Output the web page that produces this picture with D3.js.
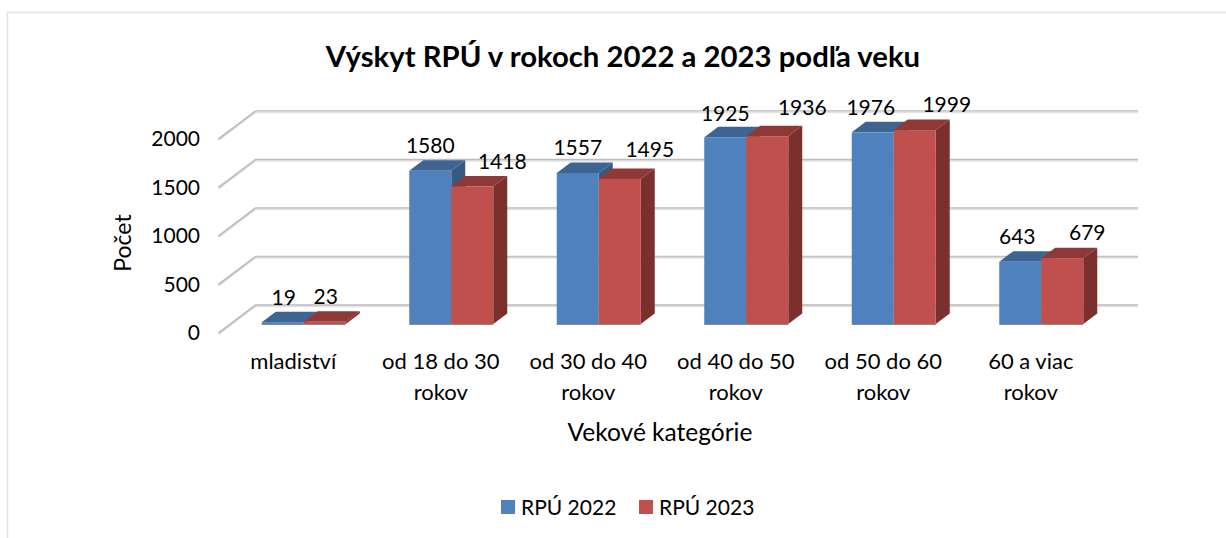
<!DOCTYPE html>
<html><head><meta charset="utf-8">
<script src="https://cdn.jsdelivr.net/npm/d3@7/dist/d3.min.js"></script>
<style>html,body{margin:0;padding:0;background:#fff}svg{display:block}text{font-family:Lato,"Open Sans",sans-serif;fill:#000}</style>
</head><body><div id="c"></div>
<script>
const categories = ["mladiství","od 18 do 30 rokov","od 30 do 40 rokov","od 40 do 50 rokov","od 50 do 60 rokov","60 a viac rokov"];
const categoryLines = [["mladiství"],["od 18 do 30","rokov"],["od 30 do 40","rokov"],["od 40 do 50","rokov"],["od 50 do 60","rokov"],["60 a viac","rokov"]];
const rpu2022 = [19,1580,1557,1925,1976,643];
const rpu2023 = [23,1418,1495,1936,1999,679];
const seriesNames = ["RPÚ 2022","RPÚ 2023"];
const yTicks = [0,500,1000,1500,2000];
const chartTitle = "Výskyt RPÚ v rokoch 2022 a 2023 podľa veku";
const yTitle = "Počet";
const xTitle = "Vekové kategórie";
// manual nudges of the data labels (as placed in the original)
const labelNudge2022 = [[1,0],[0,0],[0,0],[0,1],[-2,0],[-3,0]];
const labelNudge2023 = [[1,0],[30,0],[30,-4],[35,-4],[32,0],[25,0]];

const W=1226,H=538;
const dx=14, dy=10.5;          // bar depth
const colors=[{front:"#4f81bd",top:"#3e6491",side:"#375a85"},{front:"#c0504d",top:"#8e3937",side:"#7b302e"}];

const svg=d3.select("#c").append("svg").attr("width",W).attr("height",H);
svg.append("rect").attr("width",W).attr("height",H).attr("fill","#fff");
svg.append("path").attr("d","M7.5,538V12.5H1226").attr("fill","none").attr("stroke","#e2e2e2").attr("stroke-width",1.5);

const x0=d3.scaleBand().domain(categories).range([230,1115]);
const x1=d3.scaleBand().domain([0,1]).range([0,84]);
const y=d3.scaleLinear().domain([0,2000]).range([324,130]);
const barX=(c,s)=>x0(c)+(x0.bandwidth()-84)/2+x1(s);

// gridlines on back wall and side wall
const grid=svg.append("g").attr("fill","none");
yTicks.forEach(t=>{
  const py=y(t);
  const d=`M218.5,${py+9}L255.5,${py-19}H1138`;
  grid.append("path").attr("d",d).attr("stroke","#e4e4e4").attr("stroke-width",2).attr("transform","translate(0,1.2)");
  grid.append("path").attr("d",d).attr("stroke","#bcbcbc").attr("stroke-width",1.7);
  if(t===2000||t===1000||t===500) grid.append("path").attr("d",`M255.5,${py-19}H1138`).attr("stroke","#ffffff").attr("stroke-opacity",t===2000?.6:.3).attr("stroke-width",1).attr("stroke-dasharray","1 1").attr("transform","translate(0,.5)");
});

// bars
const bars=svg.append("g");
[rpu2022,rpu2023].forEach((vals,s)=>{
  const g=bars.append("g");
  const c=colors[s], w=x1.bandwidth();
  const rows=categories.map((cat,i)=>({cat,v:vals[i]}));
  g.selectAll(".top").data(rows).join("path").attr("fill",c.top)
    .attr("d",d=>{const a=barX(d.cat,s),t=y(d.v);return `M${a},${t}L${a+dx},${t-dy}H${a+w+dx}L${a+w},${t}Z`;});
  g.selectAll(".side").data(rows).join("path").attr("fill",c.side)
    .attr("d",d=>{const a=barX(d.cat,s)+w,t=y(d.v),b=y(0);return `M${a},${t}L${a+dx},${t-dy}V${b-dy}L${a},${b}Z`;});
  g.selectAll(".front").data(rows).join("rect").attr("fill",c.front)
    .attr("x",d=>barX(d.cat,s)).attr("y",d=>y(d.v)).attr("width",w).attr("height",d=>y(0)-y(d.v));
  g.append("path").attr("d",rows.map(d=>`M${barX(d.cat,s)},${y(0)+.5}h${w}`).join("")).attr("stroke","#8a8a8a").attr("stroke-width",1);
});

// data labels
const fs=21;
[[rpu2022,labelNudge2022],[rpu2023,labelNudge2023]].forEach(([vals,nudge],s)=>{
  svg.append("g").selectAll("text").data(vals).join("text")
    .attr("x",(v,i)=>barX(categories[i],s)+21+nudge[i][0])
    .attr("y",(v,i)=>y(v)-25+nudge[i][1]).attr("dy","0.35em")
    .attr("text-anchor","middle").attr("font-size",fs).text(v=>v);
});

// y axis
const ax=svg.append("g").attr("transform","translate(200,9)")
  .call(d3.axisLeft(y).tickValues(yTicks).tickSize(0).tickPadding(0).tickFormat(d3.format("d")));
ax.select(".domain").remove();
ax.selectAll("text").attr("font-size",fs).style("font-family","Lato");

// category labels
const cl=svg.append("g").selectAll("text").data(categories).join("text")
  .attr("text-anchor","middle").attr("font-size",22)
  .attr("transform",c=>`translate(${x0(c)+x0.bandwidth()/2-10.5},0)`);
cl.each(function(c,i){
  d3.select(this).selectAll("tspan").data(categoryLines[i]).join("tspan")
    .attr("x",0).attr("y",(l,j)=>369+j*31).text(l=>l);
});

// titles
svg.append("text").attr("x",623).attr("y",67).attr("text-anchor","middle").attr("font-size",29.3).attr("font-weight",700).text(chartTitle);
svg.append("text").attr("transform","translate(131,243) rotate(-90)").attr("text-anchor","middle").attr("font-size",23).text(yTitle);
svg.append("text").attr("x",660).attr("y",441).attr("text-anchor","middle").attr("font-size",24.5).text(xTitle);

// legend
const legendX=[501,639];
const lg=svg.append("g").selectAll("g").data(seriesNames).join("g").attr("transform",(d,i)=>`translate(${legendX[i]},500)`);
lg.append("rect").attr("width",14).attr("height",14).attr("fill",(d,i)=>colors[i].front);
lg.append("text").attr("x",20).attr("y",14.5).attr("font-size",fs).text(d=>d);
</script></body></html>
